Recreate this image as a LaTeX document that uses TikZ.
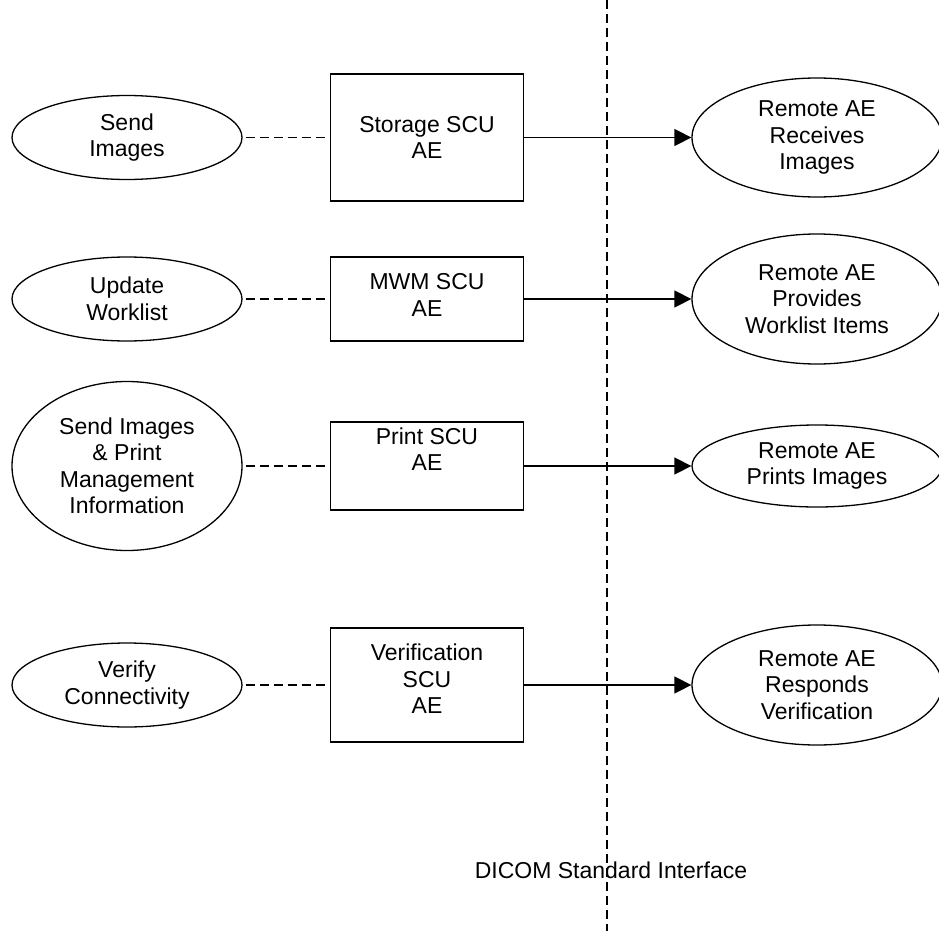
\documentclass[tikz,border=0pt]{standalone}
\usepackage{fontspec}
\setmainfont{Liberation Sans}
\usetikzlibrary{shapes.geometric,arrows.meta}
\begin{document}
\begin{tikzpicture}[x=1pt,y=-1pt,
  every node/.style={font=\fontsize{23}{26.5}\selectfont, align=center, inner sep=0pt},
  usecase/.style={draw, ellipse, line width=1.3pt},
  aebox/.style={draw, rectangle, line width=1.5pt, minimum width=193pt},
  assoc/.style={dash pattern=on 9pt off 5pt, line width=1.4pt},
  flow/.style={line width=1.4pt, -{Triangle[length=17pt,width=17pt]}},
  ]
\useasboundingbox (0,0) rectangle (939,931);

% interface line
\coordinate (top) at (607,0);
\coordinate (bot) at (607,931);
\draw[assoc] (top) -- (bot);
\node (iface) at (611,870) {DICOM Standard Interface};

% row 1
\node[usecase, minimum width=230pt, minimum height=84pt] (u1) at (127,137.5) {Send\\Images};
\node[aebox, minimum height=127pt] (b1) at (427,137.5) {Storage SCU\\AE};
\node[usecase, minimum width=250pt, minimum height=119pt] (r1) at (817,137.5) {Remote AE\\Receives\\Images};

% row 2
\node[usecase, minimum width=230pt, minimum height=84pt] (u2) at (127,299) {Update\\Worklist};
\node[aebox, minimum height=84pt] (b2) at (427,299) {};
\node (t2) at (427,295) {MWM SCU\\AE};
\node[usecase, minimum width=250pt, minimum height=130pt] (r2) at (817,299) {Remote AE\\Provides\\Worklist Items};

% row 3
\node[usecase, minimum width=230pt, minimum height=169pt] (u3) at (127,466) {Send Images\\\& Print\\Management\\Information};
\node[aebox, minimum height=88pt] (b3) at (427,466) {};
\node (t3) at (427,449) {Print SCU\\AE};
\node[usecase, minimum width=250pt, minimum height=82pt] (r3) at (817,466) {Remote AE\\Prints Images};

% row 4
\node[usecase, minimum width=230pt, minimum height=84pt] (u4) at (127,685) {Verify\\Connectivity};
\node[aebox, minimum height=114pt] (b4) at (427,685) {};
\node (t4) at (427,679) {Verification\\SCU\\AE};
\node[usecase, minimum width=250pt, minimum height=120pt] (r4) at (817,685) {Remote AE\\Responds\\Verification};

% connectors
\foreach \i in {1,2,3,4} {
  \draw[assoc, shorten <=3pt] (u\i.east) -- (b\i.west);
  \draw[flow] (b\i.east) -- (r\i.west);
}
\end{tikzpicture}
\end{document}
